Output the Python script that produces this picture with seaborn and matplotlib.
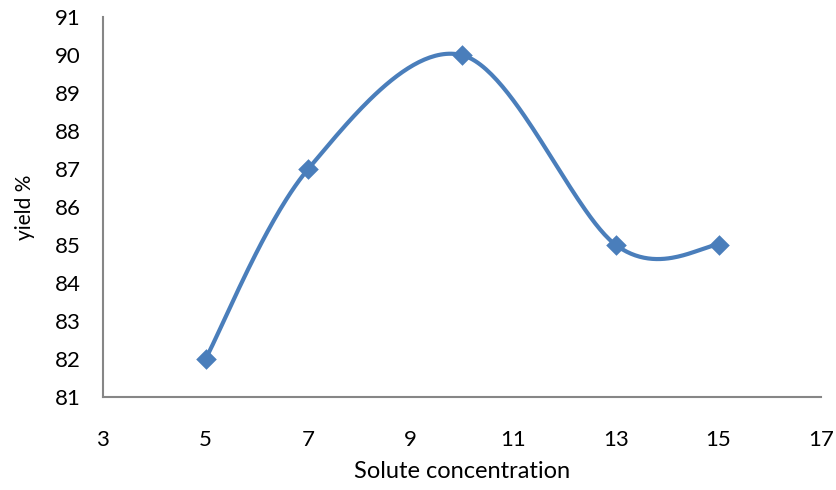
import numpy as np
import pandas as pd
import matplotlib
matplotlib.use("Agg")
import matplotlib.pyplot as plt
import seaborn as sns

concentration = [5, 7, 10, 13, 15]
yield_pct = [82, 87, 90, 85, 85]
x_ticks = [3, 5, 7, 9, 11, 13, 15, 17]
y_ticks = [81, 82, 83, 84, 85, 86, 87, 88, 89, 90, 91]

sns.set_theme(style="white")
plt.rcParams['font.family'] = ['Lato', 'DejaVu Sans']
plt.rcParams['text.color'] = 'black'
plt.rcParams['axes.labelcolor'] = 'black'
plt.rcParams['xtick.color'] = 'black'
plt.rcParams['ytick.color'] = 'black'

df = pd.DataFrame({"Solute concentration": concentration, "yield %": yield_pct})

fig = plt.figure(figsize=(8.37, 4.90), dpi=100)
ax = fig.add_axes([0.123, 0.190, 0.858, 0.775])
ax.set_xlim(3, 17)
ax.set_ylim(81, 91)

# Excel-style smoothed line (Catmull-Rom Bezier in axes-normalized space)
xr = np.array(concentration, float)
yr = np.array(yield_pct, float)
W, H = 718.0, 380.0
px = (xr - 3) / 14 * W
py = (yr - 81) / 10 * H
P = np.column_stack([px, py])
pts = []
n = len(P)
for i in range(n - 1):
    p0 = P[i - 1] if i > 0 else P[i]
    p1 = P[i]
    p2 = P[i + 1]
    p3 = P[i + 2] if i + 2 < n else P[i + 1]
    c1 = p1 + (p2 - p0) / 6
    c2 = p2 - (p3 - p1) / 6
    t = np.linspace(0, 1, 60)[:, None]
    seg = (1 - t) ** 3 * p1 + 3 * (1 - t) ** 2 * t * c1 + 3 * (1 - t) * t ** 2 * c2 + t ** 3 * p2
    pts.append(seg if i == 0 else seg[1:])
curve = np.vstack(pts)
cx = curve[:, 0] / W * 14 + 3
cy = curve[:, 1] / H * 10 + 81
color = "#4A7EBB"
sns.lineplot(x=cx, y=cy, ax=ax, color=color, linewidth=3, sort=False, estimator=None)
sns.scatterplot(data=df, x="Solute concentration", y="yield %", ax=ax, marker="D",
                s=110, color=color, edgecolor=color, linewidth=0, zorder=5)

ax.set_xticks(x_ticks)
ax.set_yticks(y_ticks)
ax.tick_params(axis="x", labelsize=16, pad=24, length=0, labelcolor="black")
ax.tick_params(axis="y", labelsize=16, pad=16, length=0, labelcolor="black")
for s in ["top", "right"]:
    ax.spines[s].set_visible(False)
for s in ["left", "bottom"]:
    ax.spines[s].set_color("#868686")
    ax.spines[s].set_linewidth(1.5)
ax.set_xlabel("Solute concentration", fontsize=17, labelpad=8, color="black")
ax.set_ylabel("yield %", fontsize=15, labelpad=14, color="black")
ax.grid(False)

fig.savefig("out.png", dpi=100)
